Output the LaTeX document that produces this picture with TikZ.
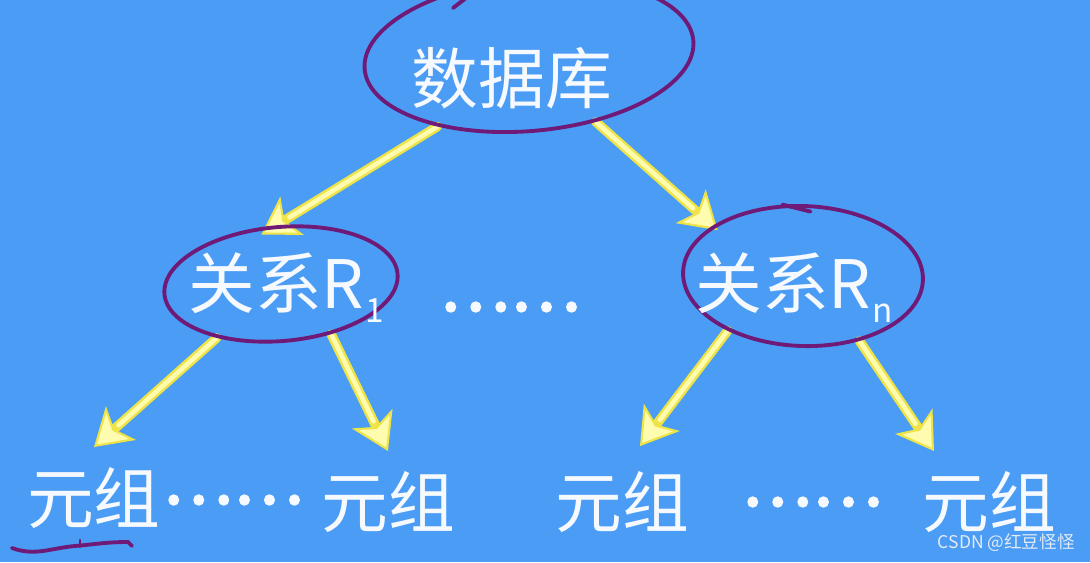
\documentclass[tikz,border=0pt]{standalone}
\usepackage{fontspec}
\setmainfont{Noto Sans CJK SC}
\newfontfamily\dotfont{Noto Sans CJK SC}[FakeBold=3]
\usetikzlibrary{shapes.geometric,arrows.meta}
\definecolor{slideBlue}{RGB}{75,156,245}
\definecolor{penPurple}{RGB}{112,26,120}
\definecolor{arrowEdge}{RGB}{238,228,72}
\definecolor{arrowFill}{RGB}{255,252,176}
\definecolor{chalkWhite}{RGB}{246,250,255}
\definecolor{markGray}{RGB}{226,234,246}
\pgfdeclarelayer{backdrop}
\pgfdeclarelayer{arrowlayer}
\pgfsetlayers{backdrop,arrowlayer,main}
\newcommand{\RSub}[1]{\kern0.5pt\raisebox{-8pt}{\fontsize{19}{20}\selectfont #1}}

\begin{document}
\begin{tikzpicture}[x=0.02cm,y=-0.02cm,
  bigword/.style={text=chalkWhite,font=\fontsize{38}{40}\selectfont,inner sep=0pt},
  dotrow/.style={text=chalkWhite,font=\dotfont\fontsize{38}{40}\selectfont,inner sep=0pt},
  ring/.style={ellipse,draw=penPurple,line width=2.2pt,inner sep=0pt},
  pen/.style={draw=penPurple,line width=2.2pt,line cap=round},
  flow/.style={draw=arrowEdge,line width=5.4pt,line cap=round,
    -{Stealth[length=0.72cm,width=0.9cm,inset=0.18cm,fill=arrowFill,line width=1.2pt]},
    postaction={draw=arrowFill,line width=2.6pt,-,shorten >=0.66cm}}]
\useasboundingbox (0,0) rectangle (1090,562);
\begin{pgfonlayer}{backdrop}
  \fill[slideBlue] (0,0) rectangle (1090,562);
\end{pgfonlayer}

% hand drawn rings
\node[ring,minimum width=6.6cm,minimum height=3.04cm,rotate=5] (dbRing) at (529,55) {};
\node[ring,minimum width=4.68cm,minimum height=2.28cm,rotate=5] (r1Ring) at (281,284) {};
\node[ring,minimum width=4.8cm,minimum height=2.8cm,rotate=-2] (rnRing) at (803,276) {};

% words
\node[bigword] (db) at (512,78) {数据库};
\node[bigword,anchor=base west] (r1) at (188,308) {关系R\RSub{1}};
\node[bigword,anchor=base west] (rn) at (695,308) {关系R\RSub{n}};
\node[dotrow] (dm) at (510,307) {……};
\node[bigword] (t1) at (94,498) {元组};
\node[dotrow] (d1) at (233,500) {……};
\node[bigword] (t2) at (388,502) {元组};
\node[bigword] (t3) at (622,502) {元组};
\node[dotrow] (d2) at (812,502) {……};
\node[bigword] (t4) at (989,502) {元组};

% arrows
\begin{pgfonlayer}{arrowlayer}
  \draw[flow] (dbRing.213) -- ([yshift=-0.15cm]r1Ring.104);
  \draw[flow] (dbRing.310) -- ([yshift=-0.15cm]rnRing.150);
  \draw[flow] (r1Ring.215) -- ([yshift=0.4cm]t1.north);
  \draw[flow] (r1Ring.310) -- ([yshift=0.4cm]t2.north);
  \draw[flow] (rnRing.218) -- ([xshift=0.36cm,yshift=0.5cm]t3.north);
  \draw[flow] (rnRing.313) -- ([xshift=-1.1cm,yshift=0.4cm]t4.north);
\end{pgfonlayer}

% pen marks
\draw[pen] (453,8) -- (466,-2);
\draw[pen] (rnRing.108) -- ++(28,7);
\draw[pen] (12,548) to[out=-20,in=185] (75,546) to[out=5,in=180] (128,542) -- (132,546);
\draw[pen,line width=1.4pt] (80,540) -- (80,547);

\node[text=markGray,font=\fontsize{10}{11}\selectfont,inner sep=0pt,anchor=east] (mark) at (1075,543) {CSDN @红豆怪怪};
\end{tikzpicture}
\end{document}
